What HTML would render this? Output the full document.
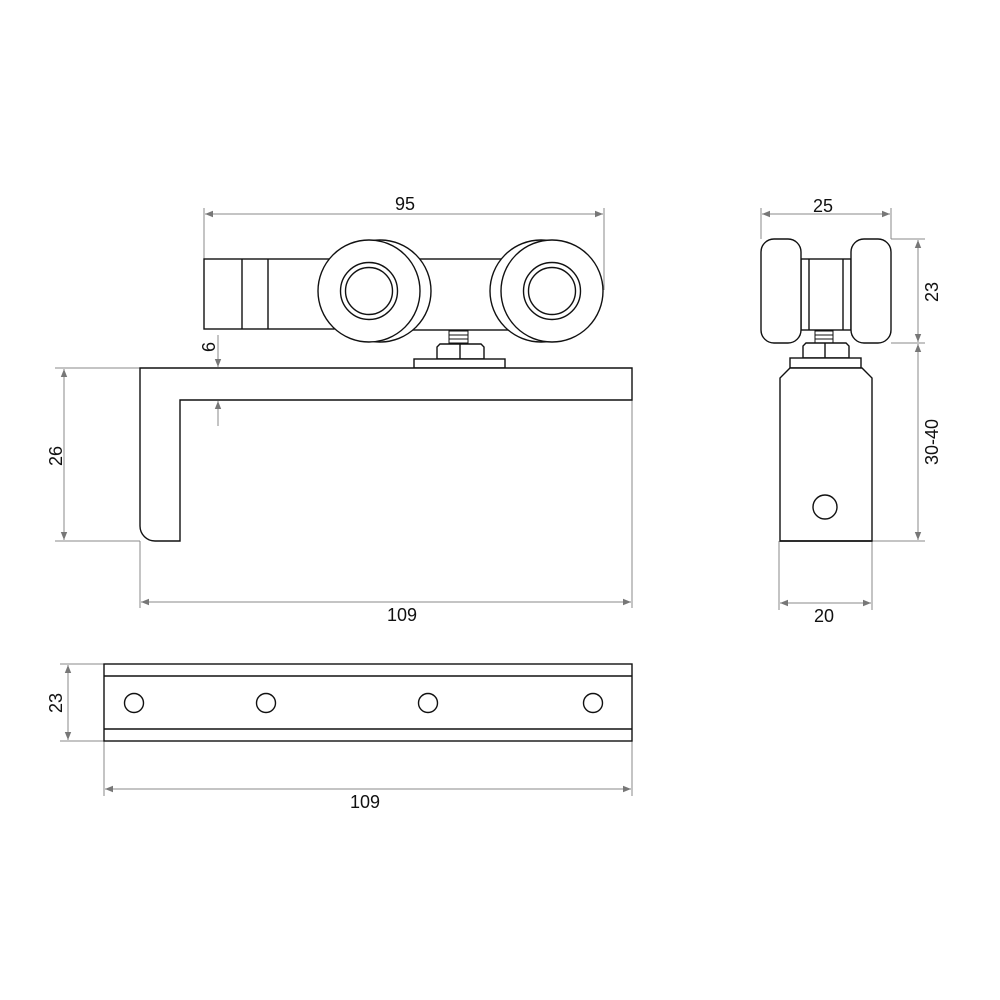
<!DOCTYPE html>
<html><head><meta charset="utf-8"><style>
html,body{margin:0;padding:0;background:#fff}
svg{display:block}
text{font-family:"Liberation Sans",sans-serif;font-size:18px;fill:#111}
</style></head><body>
<svg width="1000" height="1000" viewBox="0 0 1000 1000" xmlns="http://www.w3.org/2000/svg">
<defs>
<marker id="a" viewBox="0 0 10 10" refX="10" refY="5" markerWidth="16" markerHeight="8" markerUnits="userSpaceOnUse" orient="auto-start-reverse">
<path d="M0,1 L10,5 L0,9 Z" fill="#777"/>
</marker>
</defs>
<g fill="none" stroke="#888" stroke-width="1">
<line x1="204" y1="208" x2="204" y2="259"/><line x1="604" y1="208" x2="604" y2="290"/>
<line x1="205" y1="214" x2="603" y2="214" marker-start="url(#a)" marker-end="url(#a)"/>
<line x1="218" y1="335" x2="218" y2="367" marker-end="url(#a)"/>
<line x1="218" y1="426" x2="218" y2="401" marker-end="url(#a)"/>
<line x1="55" y1="368" x2="140" y2="368"/><line x1="55" y1="541" x2="140" y2="541"/>
<line x1="64" y1="369" x2="64" y2="540" marker-start="url(#a)" marker-end="url(#a)"/>
<line x1="140" y1="541" x2="140" y2="608"/><line x1="632" y1="400" x2="632" y2="608"/>
<line x1="141" y1="602" x2="631" y2="602" marker-start="url(#a)" marker-end="url(#a)"/>
<line x1="761" y1="208" x2="761" y2="239"/><line x1="891" y1="208" x2="891" y2="239"/>
<line x1="762" y1="214" x2="890" y2="214" marker-start="url(#a)" marker-end="url(#a)"/>
<line x1="891" y1="239" x2="925" y2="239"/><line x1="891" y1="343" x2="925" y2="343"/>
<line x1="872" y1="541" x2="925" y2="541"/>
<line x1="918" y1="240" x2="918" y2="342" marker-start="url(#a)" marker-end="url(#a)"/>
<line x1="918" y1="344" x2="918" y2="540" marker-start="url(#a)" marker-end="url(#a)"/>
<line x1="779" y1="541" x2="779" y2="610"/><line x1="872" y1="541" x2="872" y2="610"/>
<line x1="780" y1="603" x2="871" y2="603" marker-start="url(#a)" marker-end="url(#a)"/>
<line x1="60" y1="664" x2="203" y2="664"/><line x1="60" y1="741" x2="203" y2="741"/>
<line x1="68" y1="665" x2="68" y2="740" marker-start="url(#a)" marker-end="url(#a)"/>
<line x1="104" y1="664" x2="104" y2="796"/><line x1="632" y1="741" x2="632" y2="796"/>
<line x1="105" y1="789" x2="631" y2="789" marker-start="url(#a)" marker-end="url(#a)"/>
</g>
<g fill="#fff" stroke="#111" stroke-width="1.4">
<rect x="204" y="259" width="130" height="70"/>
<line x1="242" y1="259" x2="242" y2="329"/><line x1="268" y1="259" x2="268" y2="329"/>
<rect x="410" y="259" width="100" height="71"/>
<circle cx="380" cy="291" r="51"/>
<circle cx="541" cy="291" r="51"/>
<circle cx="369" cy="291" r="51"/>
<circle cx="369" cy="291" r="28.5"/><circle cx="369" cy="291" r="23.5"/>
<circle cx="552" cy="291" r="51"/>
<circle cx="552" cy="291" r="28.5"/><circle cx="552" cy="291" r="23.5"/>
<rect x="449" y="331" width="19" height="12" stroke-width="1"/>
<path d="M449,335H468M449,339H468" stroke-width="1"/>
<path d="M437,359V347l3,-3h41l3,3v12Z"/><line x1="460" y1="344" x2="460" y2="359"/>
<rect x="414" y="359" width="91" height="9"/>
<path d="M140,368H632V400H180V541H155A15,15 0 0 1 140,526Z"/>
<rect x="801" y="259" width="50" height="71"/>
<line x1="809" y1="259" x2="809" y2="330"/><line x1="843" y1="259" x2="843" y2="330"/>
<rect x="761" y="239" width="40" height="104" rx="13"/>
<rect x="851" y="239" width="40" height="104" rx="13"/>
<rect x="815" y="331" width="18" height="12" stroke-width="1"/>
<path d="M815,335H833M815,339H833" stroke-width="1"/>
<path d="M803,358V346l3,-3h40l3,3v12Z"/><line x1="825" y1="343" x2="825" y2="358"/>
<rect x="790" y="358" width="71" height="10"/>
<path d="M780,541V378L790,368H862L872,378V541Z"/>
<line x1="780" y1="541" x2="872" y2="541"/>
<circle cx="825" cy="507" r="12"/>
<rect x="104" y="664" width="528" height="77"/>
<line x1="104" y1="676" x2="632" y2="676"/><line x1="104" y1="729" x2="632" y2="729"/>
<circle cx="134" cy="703" r="9.5"/>
<circle cx="266" cy="703" r="9.5"/>
<circle cx="428" cy="703" r="9.5"/>
<circle cx="593" cy="703" r="9.5"/>
</g>
<text x="405" y="210" text-anchor="middle">95</text>
<text x="402" y="621" text-anchor="middle">109</text>
<text x="823" y="212" text-anchor="middle">25</text>
<text x="824" y="622" text-anchor="middle">20</text>
<text x="365" y="808" text-anchor="middle">109</text>
<text transform="translate(62,456) rotate(-90)" text-anchor="middle">26</text>
<text transform="translate(215,347) rotate(-90)" text-anchor="middle">6</text>
<text transform="translate(62,703) rotate(-90)" text-anchor="middle">23</text>
<text transform="translate(938,292) rotate(-90)" text-anchor="middle">23</text>
<text transform="translate(938,442) rotate(-90)" text-anchor="middle">30-40</text>
</svg>
</body></html>
